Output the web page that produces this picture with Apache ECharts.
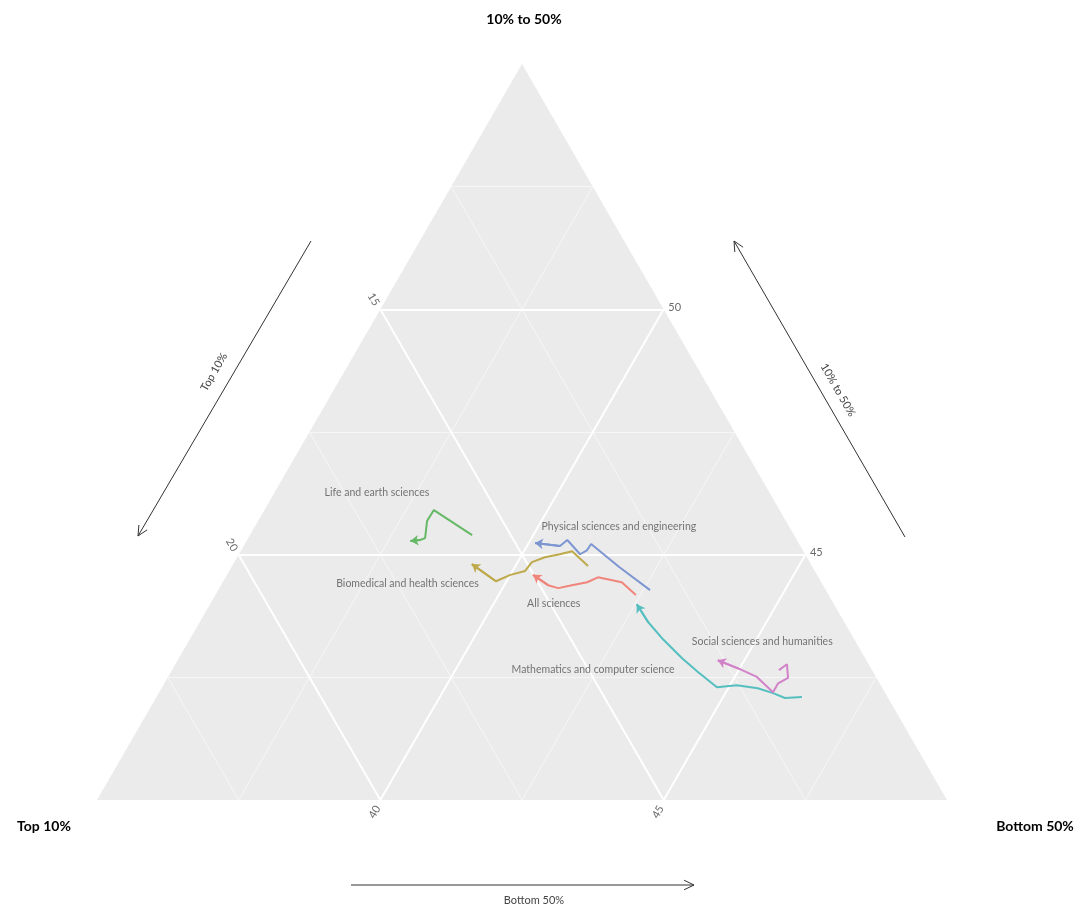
<!DOCTYPE html>
<html>
<head>
<meta charset="utf-8">
<script src="https://cdn.jsdelivr.net/npm/echarts@6/dist/echarts.min.js"></script>
<style>
  html, body { margin: 0; padding: 0; background: #ffffff; }
  #chart { width: 1087px; height: 907px; }
</style>
</head>
<body>
<div id="chart"></div>
<script>
// Each point: [Top 10%, 10% to 50%, Bottom 50%] shares, in time order (last point = arrow head)
const allSciences = [[13.40,44.18,42.42],[13.52,44.44,42.04],[13.89,44.54,41.57],[14.13,44.44,41.43],[14.43,44.38,41.19],[14.70,44.32,40.98],[14.85,44.38,40.77],[15.01,44.59,40.40]];
const biomedical  = [[13.95,44.77,41.28],[14.08,45.07,40.85],[14.33,45.01,40.66],[14.62,44.95,40.43],[14.90,44.85,40.25],[15.11,44.67,40.22],[15.41,44.59,40.00],[15.73,44.46,39.81],[15.98,44.81,39.21]];
const lifeEarth   = [[15.68,45.40,38.92],[16.10,45.91,37.99],[16.33,45.69,37.98],[16.54,45.34,38.12],[16.65,45.30,38.05],[16.83,45.28,37.89]];
const mathCs      = [[11.51,42.10,46.39],[11.82,42.08,46.10],[11.98,42.18,45.84],[12.20,42.28,45.52],[12.54,42.34,45.12],[12.91,42.30,44.79],[13.09,42.61,44.30],[13.23,42.89,43.88],[13.38,43.30,43.32],[13.46,43.63,42.91],[13.48,43.99,42.53]];
const physEng     = [[13.10,44.28,42.62],[13.41,44.75,41.84],[13.67,45.22,41.11],[13.81,45.09,41.10],[13.97,45.01,41.02],[14.05,45.30,40.65],[14.24,45.18,40.58],[14.65,45.24,40.11]];
const socialHum   = [[11.64,42.65,45.71],[11.44,42.77,45.79],[11.56,42.49,45.95],[11.79,42.38,45.83],[11.97,42.20,45.83],[12.10,42.51,45.39],[12.32,42.67,45.01],[12.62,42.85,44.53]];

const fieldNames = ['All sciences', 'Biomedical and health sciences', 'Life and earth sciences',
                    'Mathematics and computer science', 'Physical sciences and engineering', 'Social sciences and humanities'];
const fieldData  = [allSciences, biomedical, lifeEarth, mathCs, physEng, socialHum];
const fieldColors = ['#f0857b', '#bea94b', '#66b966', '#55bfbf', '#7d96d2', '#d282c8'];
// where each field's name is written, in the same ternary units
const fieldLabelAt = [[14.94,44.00,41.06],[17.31,44.42,38.27],[16.93,46.26,36.81],[14.92,42.65,42.43],[13.00,45.58,41.42],[11.64,43.24,45.12]];

// Visible range of each component (zoomed ternary)
const topRange = [10, 25];
const midRange = [40, 55];
const bottomRange = [35, 50];
const topTicks = [15, 20];
const midTicks = [45, 50];
const bottomTicks = [40, 45];
const topMinor = [12.5, 17.5, 22.5];
const midMinor = [42.5, 47.5, 52.5];
const bottomMinor = [37.5, 42.5, 47.5];

const SPAN = topRange[1] - topRange[0];
const H = Math.sqrt(3) / 2;
const FONT = 'Lato, "Open Sans", sans-serif';

// ternary [top, mid, bottom] -> cartesian (left vertex at 0,0; right at 1,0)
function toXY(p) {
  const b = (p[1] - midRange[0]) / SPAN;
  const c = (p[2] - bottomRange[0]) / SPAN;
  return [c + b / 2, b * H];
}

const vertices = [
  [topRange[0], midRange[1], bottomRange[0]],
  [topRange[1], midRange[0], bottomRange[0]],
  [topRange[0], midRange[0], bottomRange[1]]
];

const topLine = v => [[v, 100 - v - bottomRange[0], bottomRange[0]], [v, midRange[0], 100 - v - midRange[0]]];
const midLine = v => [[100 - v - bottomRange[0], v, bottomRange[0]], [topRange[0], v, 100 - v - topRange[0]]];
const bottomLine = v => [[topRange[0], 100 - v - topRange[0], v], [100 - v - midRange[0], midRange[0], v]];

function gridItems(vals, fn) {
  return vals.map(v => ({ coords: fn(v).map(toXY) }));
}
const majorGrid = [].concat(gridItems(topTicks, topLine), gridItems(midTicks, midLine), gridItems(bottomTicks, bottomLine));
const minorGrid = [].concat(gridItems(topMinor, topLine), gridItems(midMinor, midLine), gridItems(bottomMinor, bottomLine));

// label offsets are given in the rotated label frame
function tickSeries(ticks, edgePoint, rotate, offset) {
  return {
    type: 'scatter', symbolSize: 0, silent: true, z: 6,
    data: ticks.map(v => ({ value: toXY(edgePoint(v)), name: String(v) })),
    label: {
      show: true, position: 'inside', formatter: '{b}', rotate: rotate, offset: offset,
      fontFamily: FONT, fontSize: 11, color: '#444444'
    }
  };
}

const series = [];

// grey plotting area
series.push({
  type: 'custom', silent: true, z: 1,
  data: [[0, 0]],
  renderItem: (params, api) => ({
    type: 'polygon',
    shape: { points: vertices.map(v => api.coord(toXY(v))) },
    style: { fill: '#ebebeb' }
  })
});

series.push({
  type: 'lines', coordinateSystem: 'cartesian2d', silent: true, z: 2,
  data: minorGrid, symbol: ['none', 'none'],
  lineStyle: { color: '#f6f6f6', width: 1, opacity: 1 }
});
series.push({
  type: 'lines', coordinateSystem: 'cartesian2d', silent: true, z: 3,
  data: majorGrid, symbol: ['none', 'none'],
  lineStyle: { color: '#ffffff', width: 2, opacity: 1 }
});

// trajectories and their arrow heads
fieldData.forEach((pts, i) => {
  const xy = pts.map(toXY);
  series.push({
    type: 'line', name: fieldNames[i], data: xy, showSymbol: false, silent: true, z: 5,
    lineStyle: { color: fieldColors[i], width: 2 }, itemStyle: { color: fieldColors[i] }
  });
  series.push({
    type: 'lines', coordinateSystem: 'cartesian2d', silent: true, z: 5,
    data: [{ coords: xy.slice(-2) }],
    symbol: ['none', 'arrow'], symbolSize: 8,
    lineStyle: { color: fieldColors[i], width: 2, opacity: 1 }
  });
});

// field names
series.push({
  type: 'scatter', symbolSize: 0, silent: true, z: 7,
  data: fieldNames.map((n, i) => ({ name: n, value: toXY(fieldLabelAt[i]) })),
  label: { show: true, position: 'inside', formatter: '{b}', fontFamily: FONT, fontSize: 10.5, color: '#555555' }
});

// tick labels along the three edges
series.push(tickSeries(topTicks, v => [v, 100 - v - bottomRange[0], bottomRange[0]], -60, [-12, 1]));
series.push(tickSeries(midTicks, v => [topRange[0], v, 100 - v - topRange[0]], 0, [11, -2]));
series.push(tickSeries(bottomTicks, v => [100 - v - midRange[0], midRange[0], v], 60, [-13, 1]));

// direction arrows beside the triangle
function arrowGraphic(x1, y1, x2, y2) {
  const ang = Math.atan2(y2 - y1, x2 - x1);
  const len = 11, spread = Math.PI / 7;
  const h1 = [x2 - len * Math.cos(ang - spread), y2 - len * Math.sin(ang - spread)];
  const h2 = [x2 - len * Math.cos(ang + spread), y2 - len * Math.sin(ang + spread)];
  return [
    { type: 'line', shape: { x1, y1, x2, y2 }, style: { stroke: '#333333', lineWidth: 1 } },
    { type: 'polyline', shape: { points: [h1, [x2, y2], h2] }, style: { stroke: '#333333', lineWidth: 1, fill: null } }
  ];
}
function textGraphic(text, x, y, rot, size, bold) {
  return {
    type: 'text', x, y, rotation: rot,
    style: {
      text, fontFamily: FONT, fontSize: size, fontWeight: bold ? 'bold' : 'normal',
      fill: bold ? '#000000' : '#444444', align: 'center', verticalAlign: 'middle'
    }
  };
}

const graphics = [].concat(
  arrowGraphic(311, 241, 138, 536),
  arrowGraphic(905, 537, 734, 241),
  arrowGraphic(351, 885, 694, 885),
  [
    textGraphic('Top 10%', 214, 372, Math.PI / 3, 11, false),
    textGraphic('10% to 50%', 838, 390, -Math.PI / 3, 11, false),
    textGraphic('Bottom 50%', 534, 900, 0, 11, false),
    textGraphic('10% to 50%', 524, 19, 0, 14, true),
    textGraphic('Top 10%', 44, 826, 0, 14, true),
    textGraphic('Bottom 50%', 1035, 826, 0, 14, true)
  ]
);

const chart = echarts.init(document.getElementById('chart'), null, { renderer: 'canvas' });
chart.setOption({
  backgroundColor: '#ffffff',
  animation: false,
  grid: { left: 97, top: 64, width: 850, height: 850 * H },
  xAxis: { type: 'value', min: 0, max: 1, show: false },
  yAxis: { type: 'value', min: 0, max: H, show: false },
  series: series,
  graphic: graphics
});
</script>
</body>
</html>
